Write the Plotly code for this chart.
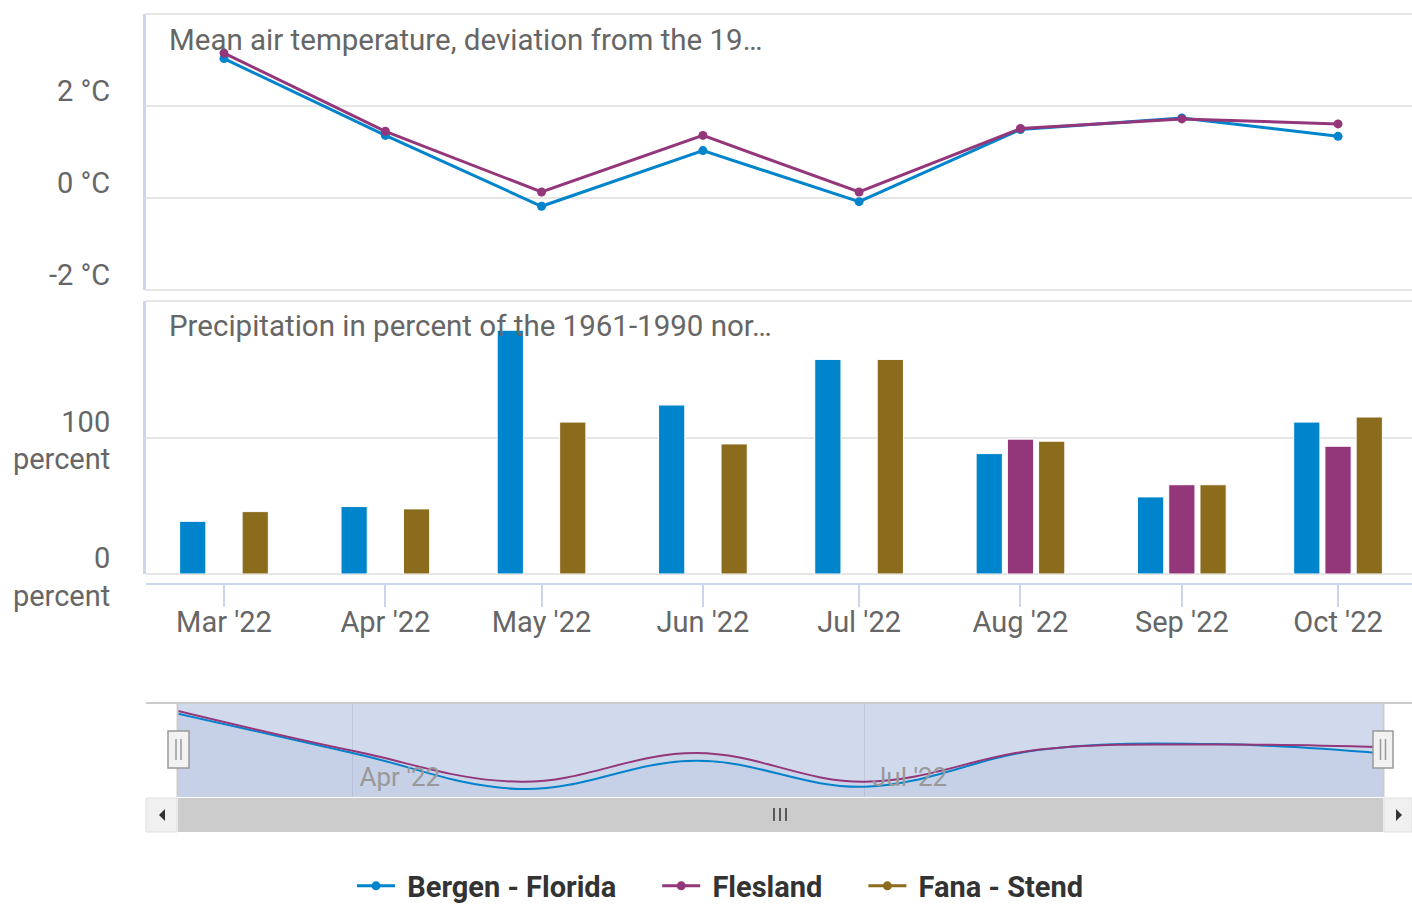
import plotly.graph_objects as go

W, H = 1412, 904

months = ['2022-03-01', '2022-04-01', '2022-05-01', '2022-06-01',
          '2022-07-01', '2022-08-01', '2022-09-01', '2022-10-01']

temp_bergen = [3.03, 1.36, -0.18, 1.03, -0.08, 1.49, 1.74, 1.34]
temp_flesland = [3.15, 1.45, 0.13, 1.36, 0.13, 1.51, 1.72, 1.61]

precip_bergen = [38.6, 49.4, 178.6, 123.8, 157.2, 88.2, 56.5, 111.3]
precip_flesland = [None, None, None, None, None, 98.8, 65.4, 93.6]
precip_fana = [45.7, 47.7, 111.3, 95.3, 157.2, 97.3, 65.4, 115.0]

temp_ticks = [-2, 0, 2]
temp_labels = ['-2 °C', '0 °C', '2 °C']
precip_ticks = [0, 100]
precip_labels = ['0<br>percent', '100<br>percent']

COLORS = {'Bergen - Florida': '#0084CC', 'Flesland': '#94367A', 'Fana - Stend': '#8B6C1D'}
FONT = 'Roboto'
X_RANGE = ['2022-02-14 00:30', '2022-10-15 05:00']
NAV_RANGE = [-0.52, 3.49]
SP = '\u00a0'


def px(p):
    return p / W


def py(p):
    return 1 - p / H


def legend_name(name):
    return SP + name + SP * 5


fig = go.Figure()

# temperature panel
for name, vals in [('Bergen - Florida', temp_bergen), ('Flesland', temp_flesland)]:
    fig.add_trace(go.Scatter(
        x=months, y=vals, name=legend_name(name), mode='lines+markers',
        line=dict(color=COLORS[name], width=3), marker=dict(size=9),
        xaxis='x', yaxis='y', legendgroup=name
    ))
# legend entry for the station that only has precipitation
fig.add_trace(go.Scatter(
    x=[None], y=[None], name=legend_name('Fana - Stend'), mode='lines+markers',
    line=dict(color=COLORS['Fana - Stend'], width=3), marker=dict(size=9),
    xaxis='x', yaxis='y', legendgroup='Fana - Stend'
))

# precipitation panel
for name, vals in [('Bergen - Florida', precip_bergen), ('Flesland', precip_flesland),
                   ('Fana - Stend', precip_fana)]:
    fig.add_trace(go.Bar(
        x=months, y=vals, name=name, marker=dict(color=COLORS[name], line=dict(color='white', width=1)),
        xaxis='x2', yaxis='y2', showlegend=False, legendgroup=name
    ))

# navigator series
for name, vals in [('Bergen - Florida', temp_bergen), ('Flesland', temp_flesland)]:
    fig.add_trace(go.Scatter(
        x=months, y=[NAV_RANGE[0]] * len(months), mode='lines', line=dict(width=0),
        xaxis='x3', yaxis='y3', showlegend=False, hoverinfo='skip'
    ))
    fig.add_trace(go.Scatter(
        x=months, y=vals, mode='lines', line=dict(color=COLORS[name], width=2, shape='spline', smoothing=1.1),
        fill='tonexty', fillcolor='rgba(70,100,180,0.04)',
        xaxis='x3', yaxis='y3', showlegend=False, hoverinfo='skip'
    ))

x0 = px(146)
label_font = dict(family=FONT, size=29, color='#666666')
title_font = dict(family=FONT, size=29.5, color='#666666')

shapes = []
# panel borders
for yr in ['y', 'y2']:
    xr = 'x' if yr == 'y' else 'x2'
    for yv in [0, 1]:
        shapes.append(dict(type='line', xref=xr + ' domain', yref=yr + ' domain',
                           x0=0, x1=1, y0=yv, y1=yv, line=dict(color='#e6e6e6', width=2), layer='below'))

# navigator mask and outline
shapes.append(dict(type='rect', xref='paper', yref='paper', x0=px(178), x1=px(1383), y0=py(797), y1=py(703),
                   fillcolor='rgba(102,133,194,0.3)', line=dict(width=0), layer='below'))
shapes.append(dict(type='line', xref='paper', yref='paper', x0=x0, x1=1, y0=py(703), y1=py(703),
                   line=dict(color='#cccccc', width=2)))
for xv in [177.5, 1383.5]:
    shapes.append(dict(type='line', xref='paper', yref='paper', x0=px(xv), x1=px(xv), y0=py(703), y1=py(797),
                       line=dict(color='#cccccc', width=2)))

# scrollbar
shapes.append(dict(type='rect', xref='paper', yref='paper', x0=x0, x1=1, y0=py(832), y1=py(798),
                   fillcolor='#f2f2f2', line=dict(width=0)))
shapes.append(dict(type='rect', xref='paper', yref='paper', x0=px(178), x1=px(1383), y0=py(832), y1=py(798),
                   fillcolor='#cccccc', line=dict(width=0)))
for a, b in [(146, 177), (1384, 1412)]:
    shapes.append(dict(type='rect', xref='paper', yref='paper', x0=px(a), x1=px(b), y0=py(832), y1=py(798),
                       fillcolor='#f0f0f0', line=dict(color='#e0e0e0', width=1)))
shapes.append(dict(type='path', xref='paper', yref='paper',
                   path=f'M {px(159)} {py(815)} L {px(165)} {py(809)} L {px(165)} {py(821)} Z',
                   fillcolor='#333333', line=dict(width=0)))
shapes.append(dict(type='path', xref='paper', yref='paper',
                   path=f'M {px(1402)} {py(815)} L {px(1396)} {py(809)} L {px(1396)} {py(821)} Z',
                   fillcolor='#333333', line=dict(width=0)))
for xv in [774, 780, 786]:
    shapes.append(dict(type='line', xref='paper', yref='paper', x0=px(xv), x1=px(xv), y0=py(808), y1=py(821),
                       line=dict(color='#333333', width=1.5)))

# navigator handles
for a, b in [(168, 189), (1373, 1393)]:
    shapes.append(dict(type='rect', xref='paper', yref='paper', x0=px(a), x1=px(b), y0=py(768), y1=py(731),
                       fillcolor='#f2f2f2', line=dict(color='#999999', width=1.5)))
    mid = (a + b) / 2
    for xv in [mid - 2.5, mid + 2.5]:
        shapes.append(dict(type='line', xref='paper', yref='paper', x0=px(xv), x1=px(xv), y0=py(739), y1=py(760),
                           line=dict(color='#999999', width=1.5)))

annotations = [
    dict(text='Mean air temperature, deviation from the 19\u2026', xref='paper', yref='paper',
         x=px(167), y=py(40), xanchor='left', yanchor='middle', showarrow=False, font=title_font),
    dict(text='Precipitation in percent of the 1961-1990 nor\u2026', xref='paper', yref='paper',
         x=px(167), y=py(326), xanchor='left', yanchor='middle', showarrow=False, font=title_font),
]

fig.update_layout(
    width=W, height=H,
    margin=dict(l=0, r=0, t=0, b=0, autoexpand=False),
    paper_bgcolor='white', plot_bgcolor='rgba(0,0,0,0)',
    font=dict(family=FONT, color='#666666'),
    barmode='group', bargap=0.40, bargroupgap=0.16,
    showlegend=True,
    legend=dict(orientation='h', x=px(352), xanchor='left', y=py(886), yanchor='middle',
                font=dict(family=FONT, size=29, color='#333333', weight='bold'),
                itemwidth=38, traceorder='normal'),
    xaxis=dict(domain=[x0, 1], range=X_RANGE, anchor='y', type='date',
               showticklabels=False, showgrid=False, showline=False, ticks='', zeroline=False),
    yaxis=dict(domain=[py(290), py(14)], range=[-2, 4], anchor='x',
               tickvals=temp_ticks, ticktext=temp_labels, tickfont=label_font,
               showgrid=True, gridcolor='#e6e6e6', gridwidth=2, zeroline=False,
               showline=True, linecolor='#ccd6eb', linewidth=3, ticks='',
               ticklabelshift=-15, ticklabelstandoff=27, automargin=False),
    xaxis2=dict(domain=[x0, 1], range=X_RANGE, anchor='free', position=py(584), type='date',
                tickformat="%b '%y", dtick='M1', tick0='2022-03-01', tickfont=label_font,
                showgrid=False, zeroline=False, showline=True, linecolor='#ccd6eb', linewidth=2,
                ticks='outside', ticklen=22, tickwidth=2, tickcolor='#ccd6eb',
                ticklabelstandoff=-10, automargin=False),
    yaxis2=dict(domain=[py(574), py(301)], range=[0, 200], anchor='x2',
                tickvals=precip_ticks, ticktext=precip_labels, tickfont=label_font,
                showgrid=True, gridcolor='#e6e6e6', gridwidth=2, zeroline=False,
                showline=True, linecolor='#ccd6eb', linewidth=3, ticks='',
                ticklabelshift=3, ticklabelstandoff=27, automargin=False),
    xaxis3=dict(domain=[px(178), px(1383)], range=[months[0], months[-1]], anchor='y3', type='date',
                tickformat="%b '%y", dtick='M3', tick0='2022-01-01',
                ticklabelposition='inside right', ticklabelshift=7,
                tickfont=dict(family=FONT, size=26, color='#999999'),
                showgrid=True, gridcolor='#c0c9db', gridwidth=1, zeroline=False, showline=False,
                ticks='', automargin=False),
    yaxis3=dict(domain=[py(797), py(703)], range=NAV_RANGE, anchor='x3',
                showticklabels=False, showgrid=False, zeroline=False, showline=False, ticks=''),
    shapes=shapes,
    annotations=annotations,
)

fig.write_html('out.html', config={'displayModeBar': False},
               post_script="document.body.style.margin='0';")
